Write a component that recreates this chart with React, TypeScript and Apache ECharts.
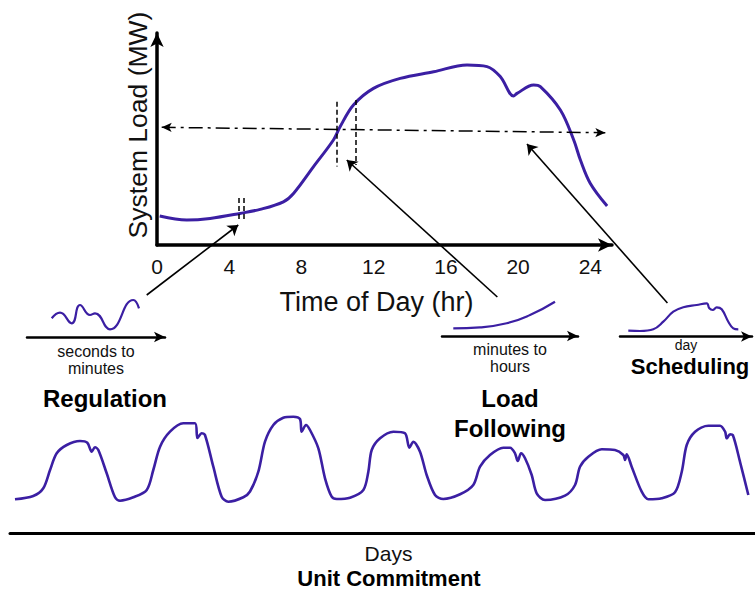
import React, { useEffect, useRef } from "react";
import * as echarts from "echarts";

// Daily system load curve: [hour of day, load]
const dailyLoad: [number, number][] = [
  [0.15, 14.5], [1.65, 12.5], [2.94, 13.3], [4.6, 15.8], [5.71, 17.8], [7.0, 21.6],
  [7.56, 25.8], [8.66, 39.1], [9.77, 52.5], [10.14, 59.1], [10.88, 70], [11.99, 78.3],
  [13.47, 83.3], [15.32, 86.6], [17.17, 90], [18.28, 89.2], [19.01, 84.2], [19.75, 74.5],
  [19.94, 75.8], [20.86, 80], [21.23, 79.2], [22.34, 67.5], [23.08, 52.5], [23.45, 42.5],
  [24.0, 30.8], [24.93, 19.5],
];
const hourTicks = ["0", "4", "8", "12", "16", "20", "24"];

// Regulation snippet (seconds to minutes)
const regulation: [number, number][] = [
  [24.7, 18.7], [33, 24.3], [44.7, 13.7], [53, 32], [63, 22], [68, 23.7], [83, 7.7],
  [106.3, 37], [112, 28.7],
];
// Load following snippet (minutes to hours)
const loadFollowing: [number, number][] = [
  [11.3, 7.7], [38, 8.7], [64.7, 12.7], [88, 21], [113, 34.3],
];
// Scheduling snippet (day)
const scheduling: [number, number][] = [
  [8.3, 5.8], [20, 5.5], [33.3, 7.2], [43.3, 14.8], [53.3, 24.8], [63.3, 29.2], [76.7, 31.5],
  [86.7, 33.2], [89.3, 28.2], [92.7, 26.5], [96.7, 29.2], [101.7, 27.2], [108.3, 14.8],
  [113.3, 8.2], [118.3, 7.2],
];
// Weekly load (days)
const weekLoad: [number, number][] = [
  [0.047, 33.7], [0.22, 37], [0.315, 44.7], [0.379, 63], [0.442, 79.7], [0.537, 88], [0.662, 92],
  [0.732, 90.3], [0.773, 81.3], [0.804, 85.7], [0.836, 83], [0.915, 59.7], [0.994, 35.7],
  [1.041, 32.3], [1.167, 35.7], [1.294, 43], [1.356, 63], [1.42, 86.3], [1.514, 101.3],
  [1.64, 109.7], [1.751, 109.7], [1.774, 95], [1.814, 99.7], [1.845, 98], [1.924, 66.3],
  [2.003, 36.3], [2.066, 31.3], [2.208, 35.7], [2.271, 41.5], [2.35, 61.3], [2.413, 91.3],
  [2.492, 108], [2.586, 115.3], [2.681, 116.3], [2.744, 114], [2.76, 101.3], [2.801, 108],
  [2.839, 103], [2.918, 84.7], [2.981, 54.7], [3.044, 36.3], [3.092, 34], [3.218, 35.3],
  [3.344, 43], [3.391, 61.3], [3.423, 83], [3.502, 94.7], [3.628, 101.3], [3.738, 99.7],
  [3.779, 85.3], [3.817, 91.3], [3.88, 81.3], [3.943, 58], [4.022, 38], [4.1, 34],
  [4.259, 38.7], [4.384, 48], [4.448, 66.3], [4.542, 78], [4.668, 85.3], [4.732, 85.3],
  [4.779, 79.7], [4.805, 72], [4.836, 79.7], [4.874, 74.7], [4.937, 58], [4.984, 39.7],
  [5.063, 33], [5.252, 37.3], [5.347, 48], [5.394, 66.3], [5.473, 76.3], [5.6, 83.7],
  [5.725, 83], [5.804, 78], [5.82, 73], [5.836, 78.7], [5.883, 66.3], [5.978, 41.3],
  [6.041, 33.7], [6.167, 34.7], [6.293, 40.7], [6.357, 61.3], [6.404, 88], [6.483, 101.3],
  [6.609, 107.3], [6.719, 107.3], [6.767, 101.3], [6.783, 94.7], [6.814, 98.7], [6.84, 98],
  [6.908, 71.3], [6.987, 38],
];

// Annotation arrows in the daily chart's coordinates: [start, end]
const pointerArrows: [number, number][][] = [
  [[-0.57, -25], [4.5, 10]],
  [[18.85, -26], [10.51, 42.5]],
  [[28.27, -29], [20.49, 50.5]],
];
const thresholdLine: [number, number][] = [[0.26, 58.85], [24.83, 56.15]];
const windowMarks: [number, number, number][] = [
  [9.96, 71.6, 39.2],
  [11.03, 72.5, 40],
  [4.51, 23.5, 11.7],
  [4.78, 23.5, 11.7],
];

const BLUE = "#3b1fa3";
const FONT = "'Liberation Sans', Arial, Helvetica, sans-serif";

export default function App() {
  const ref = useRef<HTMLDivElement>(null);
  useEffect(() => {
    if (!ref.current) return;
    const chart = echarts.init(ref.current, undefined, { renderer: "svg" });
    const miniAxis = (max: number, name: string, gap: number, size: number, lh: number) => ({
      type: "value",
      min: 0,
      max,
      axisLine: {
        show: true,
        symbol: ["none", "arrow"],
        symbolSize: [8, 11],
        lineStyle: { color: "#000", width: 2.5 },
      },
      axisTick: { show: false },
      axisLabel: { show: false },
      splitLine: { show: false },
      name,
      nameLocation: "middle",
      nameGap: gap,
      nameTextStyle: { fontSize: size, lineHeight: lh, color: "#111", fontFamily: FONT },
    });
    const hiddenY = (max: number) => ({
      type: "value",
      min: 0,
      max,
      show: false,
    });
    chart.setOption({
      animation: false,
      textStyle: { fontFamily: FONT },
      grid: [
        { left: 157, top: 33, width: 455, height: 212 },
        { left: 27, top: 295, width: 138, height: 42 },
        { left: 442, top: 295, width: 136, height: 41 },
        { left: 620, top: 295, width: 132, height: 41.5 },
        { left: 10, top: 410, width: 745, height: 123 },
      ],
      xAxis: [
        {
          type: "value",
          gridIndex: 0,
          min: 0,
          max: 25.2,
          interval: 4,
          axisLine: {
            show: true,
            symbol: ["none", "arrow"],
            symbolSize: [10, 14],
            lineStyle: { color: "#000", width: 3.5 },
          },
          axisTick: { show: false },
          splitLine: { show: false },
          axisLabel: {
            fontSize: 21,
            color: "#111",
            margin: 11,
            formatter: (v: number) => {
              const i = hourTicks.indexOf(String(v));
              return i >= 0 ? hourTicks[i] : "";
            },
          },
          name: "Time of Day (hr)",
          nameLocation: "middle",
          nameGap: 43,
          nameTextStyle: { fontSize: 27, color: "#111", padding: [0, 16, 0, 0] },
        },
        { ...miniAxis(138, "seconds to\nminutes", 6, 16, 17), gridIndex: 1 },
        { ...miniAxis(136, "minutes to\nhours", 5, 16, 17), gridIndex: 2 },
        { ...miniAxis(132, "day", 1, 14, 15), gridIndex: 3 },
        {
          type: "value",
          gridIndex: 4,
          min: 0,
          max: 7.05,
          axisLine: { show: true, lineStyle: { color: "#000", width: 3 } },
          axisTick: { show: false },
          axisLabel: { show: false },
          splitLine: { show: false },
          name: "Days",
          nameLocation: "middle",
          nameGap: 9,
          nameTextStyle: { fontSize: 21, lineHeight: 22, color: "#111", padding: [0, 0, 0, 12] },
        },
      ],
      yAxis: [
        {
          type: "value",
          gridIndex: 0,
          min: 0,
          max: 106,
          axisLine: {
            show: true,
            symbol: ["none", "arrow"],
            symbolSize: [10, 14],
            lineStyle: { color: "#000", width: 3.5 },
          },
          axisTick: { show: false },
          axisLabel: { show: false },
          splitLine: { show: false },
          name: "System Load (MW)",
          nameLocation: "middle",
          nameGap: 6,
          nameTextStyle: { fontSize: 26.5, color: "#111", padding: [0, 0, 0, 28] },
        },
        { ...hiddenY(42), gridIndex: 1 },
        { ...hiddenY(41), gridIndex: 2 },
        { ...hiddenY(41.5), gridIndex: 3 },
        { ...hiddenY(123), gridIndex: 4 },
      ],
      series: [
        {
          type: "line",
          xAxisIndex: 0,
          yAxisIndex: 0,
          data: dailyLoad,
          smooth: 0.35,
          showSymbol: false,
          lineStyle: { color: BLUE, width: 3 },
          silent: true,
          markLine: {
            silent: true,
            animation: false,
            label: { show: false },
            data: [
              [
                { coord: thresholdLine[0], symbol: "arrow", symbolSize: [7, 10] },
                { coord: thresholdLine[1], symbol: "arrow", symbolSize: [7, 10] },
              ],
              ...windowMarks.map(([x, y1, y2]) => [
                { coord: [x, y1], symbol: "none", lineStyle: { type: [5, 3], width: 1.5, color: "#000" } },
                { coord: [x, y2], symbol: "none" },
              ]),
            ],
            lineStyle: { color: "#000", width: 1.5, type: [14, 5, 3, 5] },
          },
        },
        {
          type: "lines",
          coordinateSystem: "cartesian2d",
          xAxisIndex: 0,
          yAxisIndex: 0,
          clip: false,
          silent: true,
          symbol: ["none", "arrow"],
          symbolSize: 10,
          lineStyle: { color: "#000", width: 1.6, opacity: 1 },
          data: pointerArrows.map((c) => ({ coords: c })),
        },
        {
          type: "line",
          xAxisIndex: 1,
          yAxisIndex: 1,
          data: regulation,
          smooth: 0.5,
          showSymbol: false,
          lineStyle: { color: BLUE, width: 2.2 },
        },
        {
          type: "line",
          xAxisIndex: 2,
          yAxisIndex: 2,
          data: loadFollowing,
          smooth: 0.5,
          showSymbol: false,
          lineStyle: { color: BLUE, width: 2.2 },
        },
        {
          type: "line",
          xAxisIndex: 3,
          yAxisIndex: 3,
          data: scheduling,
          smooth: 0.4,
          showSymbol: false,
          lineStyle: { color: BLUE, width: 2.2 },
        },
        {
          type: "line",
          xAxisIndex: 4,
          yAxisIndex: 4,
          data: weekLoad,
          smooth: 0.3,
          showSymbol: false,
          lineStyle: { color: BLUE, width: 2.6 },
        },
      ],
      graphic: [
        {
          type: "text",
          x: 105,
          y: 398,
          style: { text: "Regulation", font: `bold 24px ${FONT}`, fill: "#000", align: "center", verticalAlign: "middle" },
        },
        {
          type: "text",
          x: 510,
          y: 413,
          style: {
            text: "Load\nFollowing",
            font: `bold 24px ${FONT}`,
            lineHeight: 30,
            fill: "#000",
            align: "center",
            verticalAlign: "middle",
          },
        },
        {
          type: "text",
          x: 690,
          y: 366,
          style: { text: "Scheduling", font: `bold 22px ${FONT}`, fill: "#000", align: "center", verticalAlign: "middle" },
        },
        {
          type: "text",
          x: 389,
          y: 578,
          style: { text: "Unit Commitment", font: `bold 22px ${FONT}`, fill: "#000", align: "center", verticalAlign: "middle" },
        },
      ],
    });
    return () => chart.dispose();
  }, []);
  return (
    <div
      ref={ref}
      style={{ position: "fixed", left: 0, top: 0, width: 755, height: 590, background: "#fff" }}
    />
  );
}
